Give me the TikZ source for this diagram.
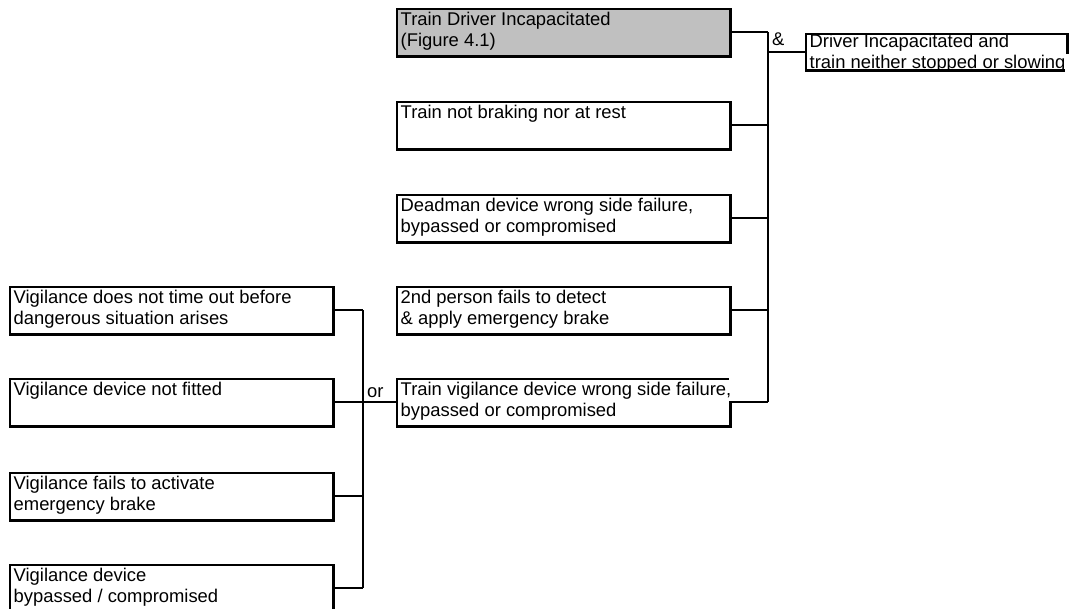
\documentclass[tikz,border=0pt]{standalone}
\usepackage{fontspec}
\setmainfont{Liberation Sans}
\definecolor{cellgrey}{RGB}{192,192,192}
\tikzset{
  evt/.style={draw=black, line width=1.8pt, anchor=north west, inner sep=0pt},
  heavy/.style={line width=3pt},
  txt/.style={anchor=base west, inner sep=0pt, font=\fontsize{18.4}{21}\selectfont},
  wire/.style={line width=2pt},
  gatelbl/.style={anchor=base west, inner sep=0pt, font=\fontsize{18.4}{21}\selectfont},
  knockout/.style={fill=white, draw=none}
}
% cell frame: [fill] name, left, top, width, height
\newcommand\eventframe[6][white]{%
  \node[evt, fill=#1, minimum width=#5pt, minimum height=#6pt] (#2) at (#3,#4) {};
  \draw[heavy] (#2.north east) -- (#2.south east) -- (#2.south west);
}
% cell text: name, baseline offset, text
\newcommand\eventtext[3]{%
  \node[txt] (#1-t) at ([shift={(4.5,#2)}]#1.north west)
    {\parbox[t]{420pt}{\raggedright #3}};
}
\begin{document}
\begin{tikzpicture}[x=1pt,y=-1pt]
\useasboundingbox (0,0) rectangle (1071,608);
\clip (0,0) rectangle (1071,608);

% contributing events of the AND gate
\eventframe[cellgrey]{drv}{396}{8}{333}{47}
\eventtext{drv}{17.5}{Train Driver Incapacitated\\(Figure 4.1)}
\eventframe{brk}{396}{101}{333}{47}
\eventtext{brk}{17.5}{Train not braking nor at rest}
\eventframe{dead}{396}{194}{333}{47}
\eventtext{dead}{17.5}{Deadman device wrong side failure,\\bypassed or compromised}
\eventframe{pers}{396}{286}{333}{47}
\eventtext{pers}{17.5}{2nd person fails to detect\\\& apply emergency brake}
% the first line runs over the right-hand border of this cell
\eventframe{vig}{396}{378}{333}{47}
\fill[knockout] ([shift={(-2,-2.5)}]vig.north east) rectangle ([shift={(2.5,-1.5)}]vig.east);
\eventtext{vig}{17.5}{Train vigilance device wrong side failure,\\bypassed or compromised}

% resulting event; its second line runs over the right-hand border
\eventframe{out}{805}{33}{261}{36}
\fill[knockout] ([shift={(-3,-17)}]out.south east) rectangle ([shift={(2.5,2)}]out.south east);
\eventtext{out}{14.5}{Driver Incapacitated and\\train neither stopped or slowing}

% contributing events of the OR gate
\eventframe{lva}{9}{286}{323}{47}
\eventtext{lva}{17.5}{Vigilance does not time out before\\dangerous situation arises}
\eventframe{lvb}{9}{378}{323}{47}
\eventtext{lvb}{17.5}{Vigilance device not fitted}
\eventframe{lvc}{9}{472}{323}{47}
\eventtext{lvc}{17.5}{Vigilance fails to activate\\emergency brake}
\eventframe{lvd}{9}{564}{323}{47}
\eventtext{lvd}{17.5}{Vigilance device\\bypassed / compromised}

% AND gate
\coordinate (andbus) at (768,0);
\foreach \n in {drv,brk,dead,pers,vig}
  \draw[wire] (\n.east) -- (\n.east -| andbus);
\draw[wire] (drv.east -| andbus) -- (vig.east -| andbus);
\draw[wire] (out.west -| andbus) -- (out.west);
\node[gatelbl] (andlbl) at (772,45) {\&};

% OR gate
\coordinate (orbus) at (363,0);
\foreach \n in {lva,lvc,lvd}
  \draw[wire] (\n.east) -- (\n.east -| orbus);
\draw[wire] (lva.east -| orbus) -- (lvd.east -| orbus);
\draw[wire] (lvb.east) -- (vig.west);
\node[gatelbl] (orlbl) at (367,397) {or};
\end{tikzpicture}
\end{document}
